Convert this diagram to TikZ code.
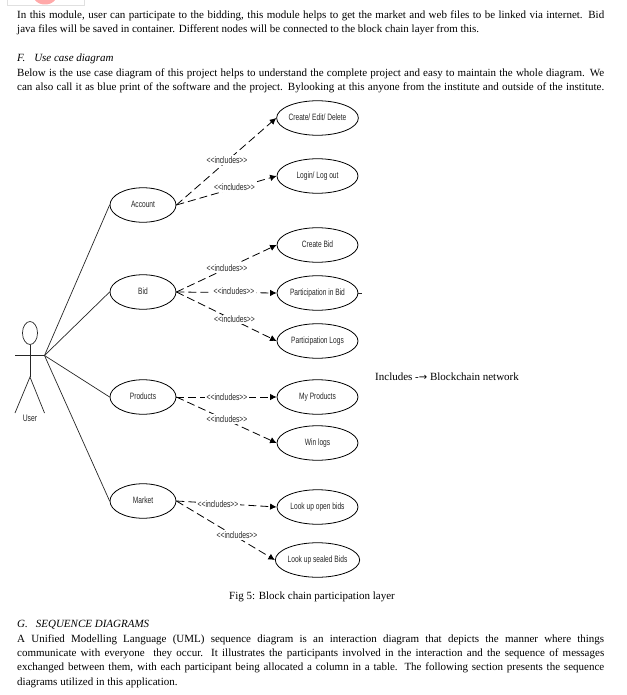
\documentclass[tikz,border=0pt]{standalone}
\usepackage{fontspec}
\setmainfont{Liberation Serif}
\newfontfamily\cond[FakeStretch=0.72]{Liberation Sans}
\newfontfamily\arrowfont{DejaVu Sans}
\usetikzlibrary{arrows.meta,calc,shapes.geometric}
\tikzset{
  uc/.style={draw,line width=0.8pt,ellipse,minimum width=81pt,minimum height=34.5pt,inner sep=0pt,font=\cond\fontsize{9.2}{10}\selectfont,text=black!85},
  ac/.style={uc,minimum width=66pt},
  assoc/.style={line width=0.7pt,draw=black!85},
  inc/.style={line width=0.8pt,dash pattern=on 8pt off 4pt,-{Latex[length=6.5pt,width=6.5pt]}},
  lab/.style={fill=white,inner sep=1.2pt,font=\cond\fontsize{9.4}{10}\selectfont,text=black!85},
  bodyl/.style={anchor=base west,inner sep=0pt,font=\fontsize{11}{12}\selectfont,text=black},
  ital/.style={bodyl,font=\fontsize{11}{12}\selectfont\itshape},
  stick/.style={line width=0.7pt,draw=black!85}
}
\newcommand{\jl}[1]{\makebox[587pt][s]{#1}}
\newcommand{\upa}[1]{\raisebox{1.8pt}{#1}}
\newcommand{\upb}[1]{\raisebox{0.8pt}{#1}}
\begin{document}
\begin{tikzpicture}[x=1pt,y=-1pt]
\useasboundingbox (0,0) rectangle (626,695);
% remains of the figure above the text
\fill[red!45!white,opacity=.75] (35,0) .. controls (39,6) and (51,6) .. (55,0) -- cycle;
\draw[black!12,line width=0.5pt] (7,0) -- (7,5) -- (84,5) -- (84,0);
% body text
\node[bodyl] (t1) at (17,19) {\jl{In this module, user can participate to the bidding, this module helps to get the market and web files to be linked via internet. Bid}};
\node[bodyl] (t2) at (17,33) {java files will be saved in container. Different nodes will be connected to the block chain layer from this.};
\node[ital] (t3) at (17,62) {F.\hspace{9pt}Use case diagram};
\node[bodyl] (t4) at (17,77) {\jl{Below is the use case diagram of this project helps to understand the complete project and easy to maintain the whole diagram. We}};
\node[bodyl] (t5) at (17,91) {\jl{can also call it as blue print of the software and the project. Bylooking at this anyone from the institute and outside of the institute.}};
% use cases
\node[ac] (acc) at (143,205) {\upa{Account}};
\node[ac] (bid) at (143,292) {\upa{Bid}};
\node[ac] (pro) at (143,397) {\upa{Products}};
\node[ac] (mar) at (143,501) {\upa{Market}};
\node[uc] (ced) at (317.5,118) {\upb{Create/ Edit/ Delete}};
\node[uc] (log) at (317.5,176) {\upb{Login/ Log out}};
\node[uc] (cb) at (317.5,245) {\upb{Create Bid}};
\node[uc] (pib) at (317.5,293) {\upb{Participation in Bid}};
\node[uc] (pl) at (317.5,341) {\upb{Participation Logs}};
\node[uc] (mp) at (317.5,397) {\upb{My Products}};
\node[uc] (wl) at (317.5,443) {\upb{Win logs}};
\node[uc] (lo) at (317.5,507) {\upb{Look up open bids}};
\node[uc] (ls) at (317.5,560) {\upb{Look up sealed Bids}};
% actor
\node[draw,stick,ellipse,minimum width=15pt,minimum height=23pt,inner sep=0pt] (head) at (30,333) {};
\coordinate (hand) at (44.5,355.5);
\coordinate (handl) at (15,355.5);
\coordinate (hip) at (30,377);
\coordinate (footl) at (15,413);
\coordinate (footr) at (44.5,413);
\draw[stick] (head.south) -- (hip);
\draw[stick] (handl) -- (hand);
\draw[stick] (footl) -- (hip) -- (footr);
\node[font=\cond\fontsize{9.4}{10}\selectfont,text=black!85,inner sep=0pt] (user) at (30,418.5) {User};
% associations
\draw[assoc] (hand) -- (acc.west);
\draw[assoc] (hand) -- (bid.west);
\draw[assoc] (hand) -- (pro.west);
\draw[assoc] (hand) -- (mar.west);
\coordinate (stub) at (362,293);
\draw[assoc] (pib.east) -- (stub);
% includes
\draw[inc] (acc.east) -- (ced.west);
\draw[inc] (acc.east) -- (log.west);
\draw[inc] (bid.east) -- (cb.west);
\draw[inc] (bid.east) -- (pib.west);
\draw[inc] (bid.east) -- (pl.west);
\draw[inc] (pro.east) -- (mp.west);
\draw[inc] (pro.east) -- (wl.west);
\draw[inc] (mar.east) -- (lo.west);
\draw[inc] (mar.east) -- (ls.west);
\node[lab] (l1) at (227,160) {<<includes>>};
\node[lab] (l2) at (234.5,187) {<<includes>>};
\node[lab] (l3) at (227,268) {<<includes>>};
\node[lab] (l4) at (234,291.5) {<<includes>>};
\node[lab] (l5) at (234.5,319.5) {<<includes>>};
\node[lab] (l6) at (227,397.5) {<<includes>>};
\node[lab] (l7) at (227,419) {<<includes>>};
\node[lab] (l8) at (218,504) {<<includes>>};
\node[lab] (l9) at (237,535) {<<includes>>};
% side and caption
\node[bodyl] (side) at (375,380) {Includes -{\arrowfont\fontsize{10}{12}\selectfont→} Blockchain network};
\node[bodyl] (cap) at (229,599) {Fig 5: Block chain participation layer};
\node[ital] (t6) at (17,627) {G.\hspace{8pt}SEQUENCE DIAGRAMS};
\node[bodyl] (t7) at (17,642) {\jl{A Unified Modelling Language (UML) sequence diagram is an interaction diagram that depicts the manner where things}};
\node[bodyl] (t8) at (17,656) {\jl{communicate with everyone\ \ they occur. It illustrates the participants involved in the interaction and the sequence of messages}};
\node[bodyl] (t9) at (17,670) {\jl{exchanged between them, with each participant being allocated a column in a table. The following section presents the sequence}};
\node[bodyl] (t10) at (17,685) {diagrams utilized in this application.};
\end{tikzpicture}
\end{document}
